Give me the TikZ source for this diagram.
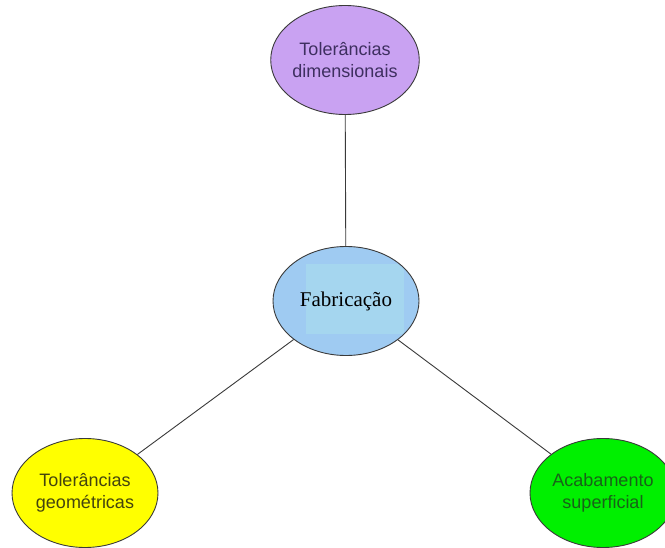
\documentclass[tikz,border=0pt]{standalone}
\usepackage{fontspec}
\setmainfont{Liberation Serif}
\newfontfamily\arialfont{Liberation Sans}
\usetikzlibrary{shapes.geometric}
\definecolor{lav}{HTML}{C9A2F2}
\definecolor{lavtext}{HTML}{3E2F60}
\definecolor{sky}{HTML}{9FCBF2}
\definecolor{skyin}{HTML}{A5D6EF}
\definecolor{yel}{HTML}{FFFF00}
\definecolor{yeltext}{HTML}{44440E}
\definecolor{grn}{HTML}{00F000}
\definecolor{grntext}{HTML}{186218}
\definecolor{edgegray}{HTML}{3A3A3A}
\tikzset{
  bubble/.style={ellipse, draw=edgegray, line width=0.9pt, inner sep=0pt,
    minimum width=146pt, minimum height=109pt, align=center},
  outertext/.style={font=\arialfont\fontsize{18pt}{21.6pt}\selectfont},
  link/.style={draw=edgegray, line width=0.9pt}
}
\begin{document}
\begin{tikzpicture}[x=1pt,y=-1pt]
\clip (0,0) rectangle (665,548);
\fill[white] (0,0) rectangle (665,548);
\node[bubble, fill=lav, outertext, text=lavtext] (top) at (345,60) {Tolerâncias\\dimensionais};
\node[bubble, fill=sky] (mid) at (346,301) {};
\begin{scope}
  \clip (346,301) ellipse [x radius=71.5pt, y radius=53.5pt];
  \fill[skyin] (306,264) rectangle (404,334);
\end{scope}
\node[font=\fontsize{21pt}{25pt}\selectfont, text=black] (midtext) at (346,301) {Fabricação};
\node[bubble, fill=yel, outertext, text=yeltext] (left) at (85,493) {Tolerâncias\\geométricas};
\node[bubble, fill=grn, outertext, text=grntext] (right) at (603,493) {Acabamento\\superficial};
\draw[link] (top) -- (mid);
\draw[link] (mid) -- (left);
\draw[link] (mid) -- (right);
\end{tikzpicture}
\end{document}
